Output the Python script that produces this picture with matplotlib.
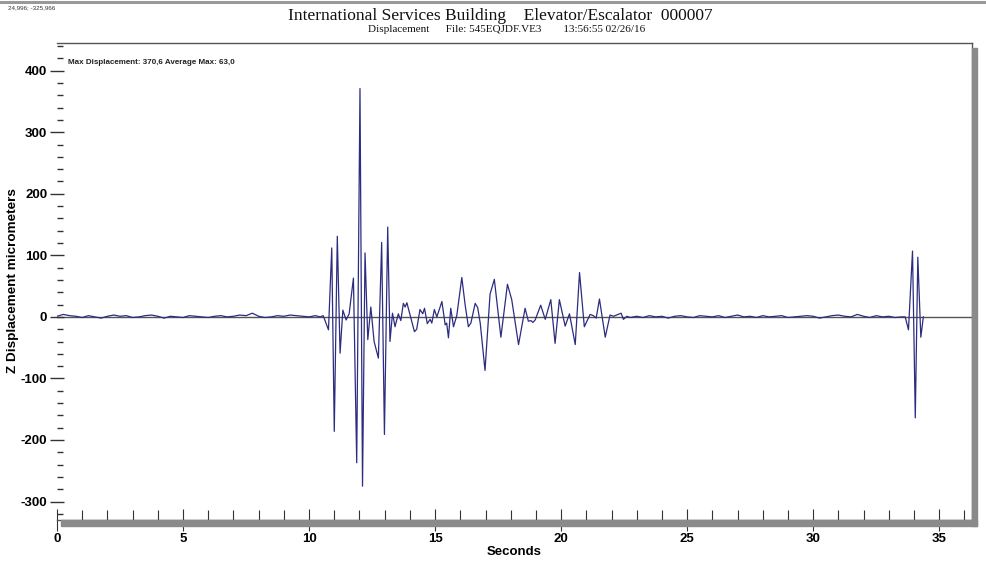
import numpy as np
import matplotlib
matplotlib.use("Agg")
import matplotlib.pyplot as plt
from matplotlib.patches import Rectangle
from matplotlib.lines import Line2D
from matplotlib.ticker import MultipleLocator

plt.rcParams["axes.unicode_minus"] = False

# ---------------- data ----------------
quiet1_step = 0.25
quiet1_vals = [1, 4, 2, 1, -1, 2, 0, -2, 1, 3, 1, 2, -1, 0, 2, 3, 1, -2, 1, 0,
               -1, 2, 1, 0, -1, 1, 2, 0, 1, 3, 2, 6, 1, -1, 0, 2, 1, 3, 2, 1,
               0, 2]

burst_t = [10.44, 10.56, 10.77, 10.90, 11.00, 11.12, 11.23, 11.34, 11.47, 11.59,
           11.76, 11.89, 12.02, 12.12, 12.22, 12.33, 12.45, 12.58, 12.75, 12.88,
           12.99, 13.12, 13.21, 13.31, 13.41, 13.54, 13.64, 13.74, 13.81, 13.88,
           14.18, 14.27, 14.40, 14.51, 14.58, 14.69, 14.80, 14.87, 14.97, 15.07,
           15.27, 15.40, 15.46, 15.53, 15.62, 15.73, 15.86, 16.06, 16.19, 16.32,
           16.42, 16.59, 16.69, 16.79, 16.98, 17.18, 17.35, 17.61, 17.87, 18.04,
           18.31, 18.57, 18.70, 18.80, 18.88, 18.97, 19.19, 19.37, 19.59, 19.76,
           19.93, 20.16, 20.33, 20.56, 20.73, 20.92, 21.15, 21.28, 21.39, 21.52,
           21.75, 21.94, 22.08, 22.38, 22.47, 22.61, 22.74]
burst_v = [0, 2, -21, 112, -186, 131, -59, 11, -5, 5,
           63, -237, 371, -275, 104, -37, 16, -40, -67, 121,
           -191, 146, -40, 6, -16, 5, -6, 22, 16, 23,
           -24, -20, 12, 5, 14, -11, -4, -10, 12, 0,
           25, -13, -10, -34, 14, -16, 2, 64, 20, -16,
           -10, 22, 15, -10, -87, 37, 61, -33, 53, 28,
           -45, 14, -7, -6, -9, -5, 19, -4, 28, -43,
           28, -15, 5, -45, 72, -16, 4, 2, -2, 29,
           -33, 3, 1, 6, -4, 1, -1]

quiet2_start = 23.0
quiet2_step = 0.25
quiet2_vals = [1, -1, 2, 0, 1, -2, 1, 2, 0, -1, 2, 1, 0, 2, -1, 1, 3, 0, 1, -1,
               2, 0, 1, 2, -1, 0, 1, 2, 1, -2, 0, 2, 3, 1, 0, 4, 1, -1, 2, 0,
               1, -1, 0]

spike_t = [33.65, 33.78, 33.94, 34.05, 34.15, 34.27, 34.37]
spike_v = [0, -21, 107, -164, 97, -33, 0]

x_max = 36.3
y_min, y_max = -330, 445

title = "International Services Building    Elevator/Escalator  000007"
subtitle = "Displacement      File: 545EQJDF.VE3        13:56:55 02/26/16"
annot = "Max Displacement: 370,6 Average Max: 63,0"
corner = "24,996; -325,966"

# ---------------- assemble ----------------
q1_t = np.arange(len(quiet1_vals)) * quiet1_step
q2_t = quiet2_start + np.arange(len(quiet2_vals)) * quiet2_step
t = np.concatenate([q1_t, burst_t, q2_t, spike_t])
v = np.concatenate([quiet1_vals, burst_v, quiet2_vals, spike_v])

W, H = 987, 567
fig = plt.figure(figsize=(W / 100, H / 100), dpi=100)
fig.patch.set_facecolor("white")

L, R, T, B = 57, 972, 43, 520
ax = fig.add_axes([L / W, 1 - B / H, (R - L) / W, (B - T) / H])
ax.set_xlim(0, x_max)
ax.set_ylim(y_min, y_max)

ax.axhline(0, color="#555555", lw=1.0, zorder=1)
ax.plot(t, v, color="#2c2c80", lw=0.9, zorder=2)

ax.spines["left"].set_visible(False)
for s in ["top", "right", "bottom"]:
    ax.spines[s].set_color("#555555")
    ax.spines[s].set_linewidth(1.0)

ax.xaxis.set_major_locator(MultipleLocator(5))
ax.xaxis.set_minor_locator(MultipleLocator(1))
ax.yaxis.set_major_locator(MultipleLocator(100))
ax.yaxis.set_minor_locator(MultipleLocator(20))
ax.tick_params(axis="x", which="major", direction="inout", length=16, width=0.8,
               color="#333333", labelsize=9.5, pad=1)
ax.tick_params(axis="x", which="minor", direction="in", length=7, width=0.8,
               color="#333333")
ax.tick_params(axis="y", which="major", direction="inout", length=10, width=1.0,
               color="#333333", labelsize=9.5, pad=2)
ax.tick_params(axis="y", which="minor", direction="in", length=4, width=1.0,
               color="#333333")
ax.set_yticks([-300, -200, -100, 0, 100, 200, 300, 400])
for lab in ax.get_xticklabels() + ax.get_yticklabels():
    lab.set_fontweight("bold")
    lab.set_family("Liberation Sans")

ax.set_xlabel("Seconds", fontsize=9.5, fontweight="bold", family="Liberation Sans",
              labelpad=1)
fig.text(13 / W, 1 - 281 / H, "Z Displacement micrometers", fontsize=9.7,
         fontweight="bold", family="Liberation Sans", rotation=90,
         ha="center", va="center")

fig.text(68 / W, 1 - 62 / H, annot, fontsize=5.8, fontweight="bold",
         family="Liberation Sans", va="center", ha="left", color="#222222")

# shadows
fig.patches.append(Rectangle((R / W, 1 - 526 / H), 5 / W, (526 - 48) / H,
                             transform=fig.transFigure, color="#8a8a8a", zorder=0))
fig.patches.append(Rectangle((61 / W, 1 - 526 / H), (977 - 61) / W, 6 / H,
                             transform=fig.transFigure, color="#8a8a8a", zorder=0))
fig.lines.append(Line2D([0, 1], [1 - 1.5 / H, 1 - 1.5 / H], transform=fig.transFigure,
                        color="#999999", lw=2.2))

fig.text(500 / W, 1 - 16 / H, title, fontsize=12.5, family="Liberation Serif",
         ha="center", va="center", color="#111111")
fig.text(507 / W, 1 - 30 / H, subtitle, fontsize=8, family="Liberation Serif",
         ha="center", va="center", color="#111111")
fig.text(8 / W, 1 - 8 / H, corner, fontsize=4.5, family="Liberation Sans",
         ha="left", va="center", color="#333333")

fig.savefig("out.png", dpi=100)
